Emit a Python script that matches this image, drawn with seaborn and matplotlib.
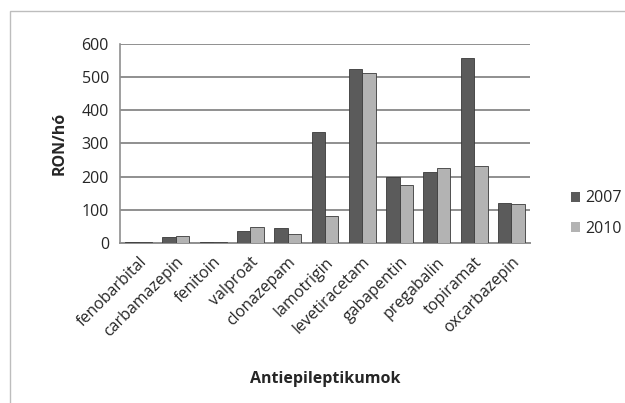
import pandas as pd
import matplotlib
matplotlib.use("Agg")
import matplotlib.pyplot as plt
import seaborn as sns
from matplotlib.patches import Rectangle, Patch

# =============================
# DATA
# =============================
drugs = [
    "fenobarbital", "carbamazepin", "fenitoin", "valproat", "clonazepam",
    "lamotrigin", "levetiracetam", "gabapentin", "pregabalin", "topiramat",
    "oxcarbazepin",
]
values_2007 = [4, 17, 4, 35, 44, 335, 525, 198, 215, 558, 120]
values_2010 = [3, 22, 4, 47, 27, 82, 512, 175, 226, 232, 117]
years = ["2007", "2010"]
colors = ["#5b5b5b", "#b3b3b3"]

df = pd.DataFrame({
    "drug": drugs * 2,
    "year": [years[0]] * len(drugs) + [years[1]] * len(drugs),
    "value": values_2007 + values_2010,
})

# =============================
# PLOT
# =============================
sns.set_style("white")
plt.rcParams["font.family"] = ["Open Sans", "DejaVu Sans"]
FS = 11.5

fig = plt.figure(figsize=(6.25, 4.03), dpi=100)
ax = fig.add_axes([0.192, 0.397, 0.656, 0.494])

sns.barplot(
    data=df, x="drug", y="value", hue="year",
    palette=colors, width=0.72, edgecolor="#3a3a3a", linewidth=0.6,
    legend=False, ax=ax, zorder=3,
)

ax.set_ylim(0, 600)
ax.set_yticks(range(0, 601, 100))
ax.yaxis.grid(True, color="#8f8f8f", linewidth=1.4, zorder=0)
ax.set_axisbelow(True)

for side in ["top", "right"]:
    ax.spines[side].set_visible(False)
ax.spines["left"].set_color("#8f8f8f")
ax.spines["bottom"].set_color("#8f8f8f")
ax.spines["left"].set_linewidth(1.2)
ax.spines["bottom"].set_linewidth(1.4)

ax.tick_params(axis="y", length=4, color="#8f8f8f", labelsize=FS, pad=4)
ax.tick_params(axis="x", length=0, labelsize=FS, pad=8)
plt.setp(ax.get_xticklabels(), rotation=45, ha="right", rotation_mode="anchor")

ax.set_ylabel("RON/hó", fontsize=FS, fontweight="bold", labelpad=10)
ax.set_xlabel("Antiepileptikumok", fontsize=FS, fontweight="bold", labelpad=22)

handles = [Patch(facecolor=c, edgecolor="none") for c in colors]
fig.legend(
    handles, years, loc="center left", bbox_to_anchor=(0.89, 0.47),
    frameon=False, fontsize=FS, handlelength=0.6, handleheight=0.6,
    handletextpad=0.3, labelspacing=0.9,
)

# outer chart border
fig.patches.append(Rectangle((10 / 625, -0.1), 1.2, 1 - 11 / 403 + 0.1,
                             transform=fig.transFigure, fill=False,
                             edgecolor="#bdbdbd", linewidth=1.0))

fig.savefig("out.png", dpi=100)
